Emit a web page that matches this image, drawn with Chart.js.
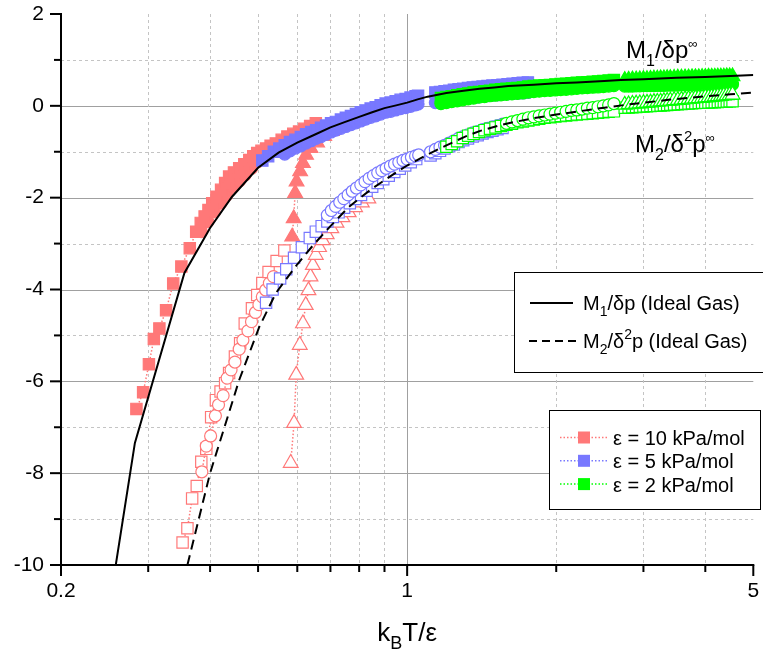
<!DOCTYPE html>
<html>
<head>
<meta charset="utf-8">
<script src="https://cdn.jsdelivr.net/npm/chart.js@4.4.0/dist/chart.umd.min.js"></script>
<style>
  body { margin: 0; background: #fff; }
  canvas { display: block; }
</style>
</head>
<body>
<canvas id="chart" width="763" height="658"></canvas>
<script>
var FONT = "'Liberation Sans', Arial, Helvetica, sans-serif";
var RED = "#ff7878", BLUE = "#7878ff", GREEN = "#00ff00";

// ticks
var xTickVals = [0.2, 0.3, 0.4, 0.5, 0.6, 0.7, 0.8, 0.9, 1, 2, 3, 4, 5];
var xTickLabels = [0.2, 1, 5];

// ideal gas curves
var idealT1 = [0.258,0.282,0.355,0.40,0.443,0.50,0.55,0.60,0.65,0.70,0.75,0.80,0.85,0.90,0.95,1.00,1.05,1.10,1.20,1.30,1.40,1.50,1.60,1.80,2.00,2.20,2.50,2.70,3.00,3.50,4.00,4.50,5.00];
var idealM1 = [-10,-7.34,-3.64,-2.66,-1.98,-1.35,-1.02,-0.80,-0.63,-0.47,-0.35,-0.24,-0.14,-0.05,0.01,0.07,0.14,0.20,0.28,0.33,0.37,0.40,0.43,0.46,0.49,0.51,0.54,0.56,0.58,0.61,0.63,0.65,0.67];
var idealT2 = [0.36,0.40,0.458,0.503,0.543,0.60,0.65,0.70,0.763,0.80,0.85,0.90,0.95,1.00,1.10,1.20,1.31,1.40,1.53,1.65,1.80,2.00,2.22,2.50,2.80,3.37,4.00,4.50,5.00];
var idealM2 = [-10,-8.0,-5.97,-4.81,-4.08,-3.45,-3.0,-2.62,-2.20,-2.02,-1.80,-1.62,-1.45,-1.30,-1.06,-0.86,-0.67,-0.55,-0.43,-0.35,-0.27,-0.19,-0.12,-0.04,0.03,0.13,0.21,0.25,0.29];

// eps = 10 kPa/mol
var e10SqT  = [0.284,0.293,0.301,0.308,0.316,0.326,0.337,0.350,0.364,0.375,0.383,0.390,0.397,0.404,0.412,0.421,0.429,0.437,0.447,0.458,0.469,0.480,0.489,0.498,0.508,0.519,0.530,0.543,0.558,0.573,0.589,0.605,0.620,0.637,0.654];
var e10SqM1 = [-6.60,-6.24,-5.63,-5.08,-4.85,-4.45,-3.87,-3.50,-3.10,-2.74,-2.55,-2.41,-2.27,-2.12,-1.98,-1.83,-1.68,-1.54,-1.45,-1.36,-1.27,-1.18,-1.10,-1.03,-0.98,-0.93,-0.87,-0.82,-0.74,-0.67,-0.61,-0.56,-0.50,-0.44,-0.38];
var e10CiT  = [0.384,0.396,0.408,0.420,0.432,0.445,0.458,0.471,0.485,0.499,0.514,0.530,0.546,0.563,0.580,0.598,0.617,0.636,0.656];
var e10CiM1 = [-2.74,-2.52,-2.31,-2.12,-1.95,-1.77,-1.64,-1.50,-1.36,-1.22,-1.11,-1.02,-0.93,-0.85,-0.78,-0.70,-0.63,-0.57,-0.51];
var e10TrT  = [0.586,0.590,0.594,0.598,0.608,0.616,0.625,0.638,0.658,0.680,0.705,0.730];
var e10TrM1 = [-2.85,-2.45,-1.90,-1.65,-1.43,-1.25,-1.07,-0.92,-0.80,-0.66,-0.55,-0.45];
var e10SqM2T = [0.352,0.360,0.368,0.376,0.384,0.393,0.402,0.411,0.420,0.429,0.437,0.449,0.460,0.470,0.486,0.498,0.510,0.525,0.545,0.565];
var e10SqM2  = [-9.51,-9.20,-8.55,-8.28,-7.75,-7.47,-6.78,-6.41,-6.22,-6.04,-5.82,-5.46,-5.17,-4.74,-4.41,-4.12,-3.86,-3.62,-3.38,-3.15];
var e10CiM2T = [0.385,0.393,0.401,0.410,0.416,0.425,0.433,0.441,0.449,0.458,0.466,0.477,0.485,0.494,0.502,0.510,0.518,0.527,0.537];
var e10CiM2  = [-7.97,-7.41,-7.19,-6.75,-6.51,-6.31,-5.93,-5.75,-5.58,-5.30,-5.10,-4.90,-4.70,-4.50,-4.33,-4.16,-4.01,-3.86,-3.72];
var e10TrM2T = [0.582,0.591,0.597,0.607,0.616,0.624,0.632,0.638,0.645,0.654,0.664,0.675,0.688,0.703,0.720,0.740,0.762,0.785,0.810,0.835];
var e10TrM2  = [-7.78,-6.91,-5.86,-5.21,-4.74,-4.34,-4.02,-3.72,-3.47,-3.25,-3.08,-2.93,-2.80,-2.67,-2.55,-2.43,-2.32,-2.21,-2.11,-2.02];

// eps = 5 kPa/mol
var e5T1   = [0.510,0.524,0.538,0.552,0.566,0.580,0.595,0.610,0.625,0.640,0.655,0.670,0.686,0.702,0.718,0.735,0.752,0.770,0.788,0.806,0.825,0.844,0.864,0.884,0.905,0.926,0.948,0.970,0.993,1.016,1.040,1.052];
var e5SqM1 = [-1.19,-1.10,-1.00,-0.93,-0.86,-0.79,-0.74,-0.68,-0.62,-0.57,-0.53,-0.48,-0.43,-0.38,-0.35,-0.30,-0.26,-0.22,-0.18,-0.14,-0.10,-0.06,-0.03,0.01,0.05,0.07,0.10,0.13,0.15,0.18,0.21,0.22];
var e5CiT1 = [0.566,0.580,0.595,0.610,0.625,0.640,0.655,0.670,0.686,0.702,0.718,0.735,0.752,0.770,0.788,0.806,0.825,0.844,0.864,0.884,0.905,0.926,0.948,0.970,0.993,1.016,1.040,1.052];
var e5CiM1 = [-1.05,-0.98,-0.92,-0.87,-0.81,-0.76,-0.71,-0.67,-0.62,-0.57,-0.53,-0.49,-0.45,-0.41,-0.37,-0.33,-0.29,-0.25,-0.22,-0.18,-0.14,-0.12,-0.09,-0.06,-0.04,-0.01,0.02,0.04];
var e5T2    = [1.140,1.165,1.190,1.216,1.243,1.270,1.298,1.327,1.357,1.388,1.420,1.453,1.487,1.522,1.558,1.595,1.633,1.672,1.712,1.753];
var e5SqM1b = [0.29,0.30,0.32,0.33,0.35,0.36,0.37,0.39,0.40,0.41,0.42,0.43,0.44,0.45,0.46,0.47,0.48,0.49,0.50,0.51];
var e5CiM1b = [0.07,0.09,0.10,0.12,0.13,0.14,0.16,0.17,0.18,0.19,0.21,0.22,0.23,0.24,0.25,0.26,0.27,0.27,0.28,0.29];
var e5SqM2T = [0.519,0.535,0.554,0.570,0.591,0.613,0.636,0.654,0.672,0.690,0.708,0.727,0.746,0.766,0.786,0.807,0.828,0.850,0.872,0.895,0.918,0.942,0.966,0.991,1.017,1.043];
var e5SqM2  = [-4.29,-4.00,-3.76,-3.56,-3.31,-3.08,-2.88,-2.74,-2.62,-2.52,-2.42,-2.32,-2.22,-2.12,-2.03,-1.94,-1.85,-1.76,-1.68,-1.60,-1.52,-1.44,-1.37,-1.30,-1.23,-1.16];
var e5CiM2T = [0.690,0.703,0.717,0.731,0.745,0.760,0.775,0.790,0.806,0.822,0.838,0.855,0.872,0.889,0.907,0.925,0.943,0.962,0.981,1.000,1.020,1.040,1.055];
var e5CiM2  = [-2.38,-2.28,-2.19,-2.10,-2.02,-1.94,-1.86,-1.79,-1.72,-1.65,-1.58,-1.52,-1.46,-1.41,-1.36,-1.31,-1.27,-1.23,-1.19,-1.16,-1.12,-1.09,-1.07];
var e5M2T2  = [1.115,1.140,1.165,1.190,1.216,1.243,1.270,1.298,1.327,1.357,1.388,1.420,1.453,1.487,1.522,1.558];
var e5CiM2b = [-1.00,-0.95,-0.90,-0.86,-0.81,-0.76,-0.71,-0.67,-0.63,-0.59,-0.56,-0.52,-0.49,-0.46,-0.43,-0.40];
var e5SqM2b = [-1.08,-1.03,-0.98,-0.93,-0.88,-0.84,-0.79,-0.75,-0.71,-0.67,-0.64,-0.60,-0.57,-0.54,-0.51,-0.48];

// eps = 2 kPa/mol
var e2T1   = [1.170,1.200,1.230,1.262,1.295,1.328,1.362,1.397,1.433,1.470,1.508,1.547,1.587,1.628,1.670,1.713,1.757,1.802,1.848,1.895,1.943,1.992,2.042,2.094,2.147,2.201,2.256,2.312,2.370,2.429,2.490,2.552,2.615];
var e2SqM1 = [0.17,0.19,0.21,0.23,0.25,0.27,0.29,0.30,0.32,0.33,0.35,0.36,0.37,0.38,0.39,0.40,0.42,0.43,0.44,0.45,0.455,0.465,0.475,0.48,0.49,0.50,0.51,0.515,0.525,0.53,0.54,0.55,0.56];
var e2CiM1 = [0.05,0.07,0.09,0.11,0.13,0.15,0.17,0.19,0.20,0.22,0.23,0.24,0.25,0.26,0.27,0.28,0.30,0.31,0.32,0.33,0.335,0.345,0.355,0.36,0.37,0.38,0.39,0.395,0.405,0.41,0.42,0.43,0.44];
var e2T2    = [2.750,2.800,2.850,2.900,2.950,3.000,3.050,3.100,3.150,3.200,3.250,3.300,3.350,3.400,3.460,3.520,3.580,3.640,3.700,3.760,3.820,3.880,3.940,4.000,4.060,4.120,4.180,4.240,4.300,4.360,4.420,4.480,4.540];
var e2TrM1b = [0.56,0.565,0.57,0.57,0.575,0.58,0.58,0.585,0.59,0.59,0.595,0.595,0.60,0.60,0.605,0.61,0.61,0.615,0.615,0.62,0.62,0.62,0.625,0.625,0.63,0.63,0.63,0.635,0.635,0.635,0.64,0.64,0.64];
var e2CiM1b = [0.43,0.43,0.43,0.435,0.435,0.44,0.44,0.44,0.44,0.445,0.445,0.445,0.45,0.45,0.45,0.45,0.455,0.455,0.455,0.455,0.46,0.46,0.46,0.46,0.46,0.465,0.465,0.465,0.465,0.47,0.47,0.47,0.47];
var e2SqM2T = [1.200,1.230,1.262,1.295,1.328,1.362,1.397,1.433,1.470,1.508,1.547,1.587,1.628,1.670,1.713,1.757,1.802,1.848,1.895,1.943,1.992,2.042,2.094,2.147,2.201,2.256,2.312,2.370,2.429,2.490,2.552,2.615];
var e2SqM2  = [-0.89,-0.83,-0.77,-0.70,-0.65,-0.61,-0.57,-0.53,-0.50,-0.47,-0.44,-0.41,-0.39,-0.36,-0.34,-0.32,-0.30,-0.28,-0.26,-0.25,-0.23,-0.22,-0.21,-0.20,-0.19,-0.18,-0.17,-0.16,-0.15,-0.14,-0.13,-0.12];
var e2CiM2T = [1.587,1.628,1.670,1.713,1.757,1.802,1.848,1.895,1.943,1.992,2.042,2.094,2.147,2.201,2.256,2.312,2.370,2.429,2.490,2.552,2.615];
var e2CiM2  = [-0.38,-0.35,-0.32,-0.29,-0.26,-0.24,-0.22,-0.20,-0.18,-0.16,-0.14,-0.12,-0.10,-0.09,-0.07,-0.05,-0.04,-0.02,0.00,0.02,0.05];
var e2SqM2b = [-0.04,-0.035,-0.03,-0.025,-0.02,-0.015,-0.01,-0.005,0.0,0.005,0.01,0.015,0.02,0.025,0.03,0.035,0.04,0.045,0.05,0.055,0.06,0.065,0.07,0.07,0.075,0.08,0.08,0.085,0.09,0.09,0.095,0.10,0.10];
var e2TrM2b = [0.02,0.03,0.04,0.045,0.05,0.06,0.065,0.07,0.08,0.085,0.09,0.10,0.105,0.11,0.12,0.125,0.13,0.14,0.145,0.15,0.16,0.165,0.17,0.18,0.185,0.19,0.20,0.205,0.21,0.22,0.225,0.23,0.24];

function pts(xs, ys) {
  return xs.map(function (x, i) { return { x: x, y: ys[i] }; });
}

var order = 2;
function series(xs, ys, color, shape, filled) {
  var r = shape === "rect" ? 8 : (shape === "triangle" ? 8.5 : 6);
  return {
    data: pts(xs, ys),
    showLine: true,
    borderColor: color,
    borderWidth: 1.5,
    borderDash: [1.5, 2],
    pointStyle: shape,
    pointRadius: r,
    pointBackgroundColor: filled ? color : "#ffffff",
    pointBorderColor: color,
    pointBorderWidth: 1.2,
    order: order++
  };
}

function ideal(xs, ys, dash) {
  return {
    data: pts(xs, ys),
    showLine: true,
    borderColor: "#000",
    borderWidth: 2,
    borderDash: dash,
    pointRadius: 0,
    order: 0
  };
}

// later entries sit lower in the drawing stack
var datasets = [
  ideal(idealT1, idealM1, []),
  ideal(idealT2, idealM2, [10, 6]),
  series(e2CiM2T, e2CiM2, GREEN, "circle", false),
  series(e2T2, e2TrM2b, GREEN, "triangle", false),
  series(e2T2, e2SqM2b, GREEN, "rect", false),
  series(e2SqM2T, e2SqM2, GREEN, "rect", false),
  series(e2T1, e2SqM1, GREEN, "rect", true),
  series(e2T2, e2TrM1b, GREEN, "triangle", true),
  series(e2T1, e2CiM1, GREEN, "circle", true),
  series(e2T2, e2CiM1b, GREEN, "circle", true),
  series(e5CiM2T, e5CiM2, BLUE, "circle", false),
  series(e5M2T2, e5CiM2b, BLUE, "circle", false),
  series(e5SqM2T, e5SqM2, BLUE, "rect", false),
  series(e5M2T2, e5SqM2b, BLUE, "rect", false),
  series(e5T1, e5SqM1, BLUE, "rect", true),
  series(e5T2, e5SqM1b, BLUE, "rect", true),
  series(e5CiT1, e5CiM1, BLUE, "circle", true),
  series(e5T2, e5CiM1b, BLUE, "circle", true),
  series(e10CiM2T, e10CiM2, RED, "circle", false),
  series(e10SqM2T, e10SqM2, RED, "rect", false),
  series(e10TrM2T, e10TrM2, RED, "triangle", false),
  series(e10TrT, e10TrM1, RED, "triangle", true),
  series(e10SqT, e10SqM1, RED, "rect", true),
  series(e10CiT, e10CiM1, RED, "circle", true)
];

function line(ctx, x1, y1, x2, y2) {
  ctx.beginPath();
  ctx.moveTo(x1, y1);
  ctx.lineTo(x2, y2);
  ctx.stroke();
}

// text with sub/superscripts: [text, size, baseline shift]
function rich(ctx, x, y, parts) {
  var cx = x;
  parts.forEach(function (p) {
    ctx.font = p[1] + "px " + FONT;
    ctx.fillText(p[0], cx, y + (p[2] || 0));
    cx += ctx.measureText(p[0]).width;
  });
  return cx;
}
function richWidth(ctx, parts) {
  var w = 0;
  parts.forEach(function (p) {
    ctx.font = p[1] + "px " + FONT;
    w += ctx.measureText(p[0]).width;
  });
  return w;
}

function noPad(axis) {
  axis.paddingTop = 0;
  axis.paddingBottom = 0;
  axis.paddingLeft = 0;
  axis.paddingRight = 0;
}

var frame = {
  id: "frame",
  beforeDatasetsDraw: function (chart) {
    var ctx = chart.ctx, a = chart.chartArea;
    var sx = chart.scales.x, sy = chart.scales.y;
    ctx.save();
    ctx.lineWidth = 1;
    for (var v = -9; v <= 1; v++) {
      var py = Math.round(sy.getPixelForValue(v)) + 0.5;
      if (v % 2 === 0) { ctx.strokeStyle = "#a0a0a0"; ctx.setLineDash([]); }
      else { ctx.strokeStyle = "#c4c4c4"; ctx.setLineDash([3, 3]); }
      line(ctx, a.left, py, a.right, py);
    }
    xTickVals.forEach(function (t) {
      if (t === 0.2 || t === 5) return;
      var px = Math.round(sx.getPixelForValue(t)) + 0.5;
      if (t === 1) { ctx.strokeStyle = "#a0a0a0"; ctx.setLineDash([]); }
      else { ctx.strokeStyle = "#c4c4c4"; ctx.setLineDash([3, 3]); }
      line(ctx, px, a.top, px, a.bottom);
    });
    ctx.restore();
  },
  afterDraw: function (chart) {
    var ctx = chart.ctx, a = chart.chartArea;
    var sx = chart.scales.x, sy = chart.scales.y;
    ctx.save();
    // axes and tick marks
    ctx.strokeStyle = "#000";
    ctx.lineWidth = 2;
    ctx.setLineDash([]);
    line(ctx, a.left, a.top - 1, a.left, a.bottom + 1);
    line(ctx, a.left - 1, a.bottom, a.right + 1, a.bottom);
    for (var v = -10; v <= 2; v++) {
      var py = sy.getPixelForValue(v);
      line(ctx, a.left - (v % 2 === 0 ? 11 : 7), py, a.left, py);
    }
    xTickVals.forEach(function (t) {
      var px = sx.getPixelForValue(t);
      line(ctx, px, a.bottom, px, a.bottom + (xTickLabels.indexOf(t) >= 0 ? 11 : 7));
    });

    ctx.fillStyle = "#000";
    ctx.textBaseline = "alphabetic";
    ctx.textAlign = "left";

    // axis title
    var title = [["k", 26], ["B", 18, 8], ["T/\u03b5", 26]];
    rich(ctx, (a.left + a.right) / 2 - richWidth(ctx, title) / 2, 641, title);

    // curve labels
    rich(ctx, 626, 58, [["M", 24], ["1", 16, 8], ["/\u03b4p", 24], ["\u221e", 13, -10]]);
    rich(ctx, 635, 152, [["M", 24], ["2", 16, 8], ["/\u03b4", 24], ["2", 15, -11], ["p", 24], ["\u221e", 13, -10]]);

    // ideal gas legend
    ctx.fillStyle = "#fff";
    ctx.fillRect(514.5, 272.5, 300, 100);
    ctx.lineWidth = 1;
    ctx.strokeRect(514.5, 272.5, 300, 100);
    ctx.lineWidth = 2;
    line(ctx, 530, 303, 573, 303);
    ctx.setLineDash([8, 5]);
    line(ctx, 529, 341, 577, 341);
    ctx.setLineDash([]);
    ctx.fillStyle = "#000";
    rich(ctx, 583, 310, [["M", 20], ["1", 14, 6], ["/\u03b4p (Ideal Gas)", 20]]);
    rich(ctx, 583, 348, [["M", 20], ["2", 14, 6], ["/\u03b4", 20], ["2", 14, -9], ["p (Ideal Gas)", 20]]);

    // eps legend
    ctx.fillStyle = "#fff";
    ctx.fillRect(549.5, 410.5, 211, 99);
    ctx.lineWidth = 1;
    ctx.strokeRect(549.5, 410.5, 211, 99);
    var rows = [[RED, "10"], [BLUE, "5"], [GREEN, "2"]];
    rows.forEach(function (r, i) {
      var base = 445 + i * 23.3, cy = base - 7.5;
      ctx.strokeStyle = r[0];
      ctx.lineWidth = 1.5;
      ctx.setLineDash([1.5, 2]);
      line(ctx, 560, cy, 607, cy);
      ctx.setLineDash([]);
      ctx.fillStyle = r[0];
      ctx.fillRect(578, cy - 6, 12, 12);
      ctx.fillStyle = "#000";
      rich(ctx, 613, base, [["\u03b5 = " + r[1] + " kPa/mol", 20]]);
    });
    ctx.restore();
  }
};

new Chart(document.getElementById("chart"), {
  type: "scatter",
  data: { datasets: datasets },
  options: {
    responsive: false,
    animation: false,
    layout: { padding: { top: 14, right: 7, left: 0, bottom: 0 } },
    plugins: { legend: { display: false }, tooltip: { enabled: false } },
    scales: {
      x: {
        type: "logarithmic",
        min: 0.2,
        max: 5,
        grid: { display: false, drawTicks: false },
        border: { display: false },
        afterBuildTicks: function (axis) {
          axis.ticks = xTickVals.map(function (v) { return { value: v }; });
        },
        afterFit: function (axis) { axis.height = 93; noPad(axis); },
        ticks: {
          autoSkip: false,
          maxRotation: 0,
          minRotation: 0,
          padding: 14,
          color: "#000",
          font: { family: FONT, size: 21 },
          callback: function (v) { return xTickLabels.indexOf(v) >= 0 ? String(v) : ""; }
        }
      },
      y: {
        min: -10,
        max: 2,
        grid: { display: false, drawTicks: false },
        border: { display: false },
        afterFit: function (axis) { axis.width = 61; noPad(axis); },
        ticks: {
          stepSize: 1,
          autoSkip: false,
          padding: 17,
          color: "#000",
          font: { family: FONT, size: 21 },
          callback: function (v) { return v % 2 === 0 ? String(v) : ""; }
        }
      }
    }
  },
  plugins: [frame]
});
</script>
</body>
</html>
